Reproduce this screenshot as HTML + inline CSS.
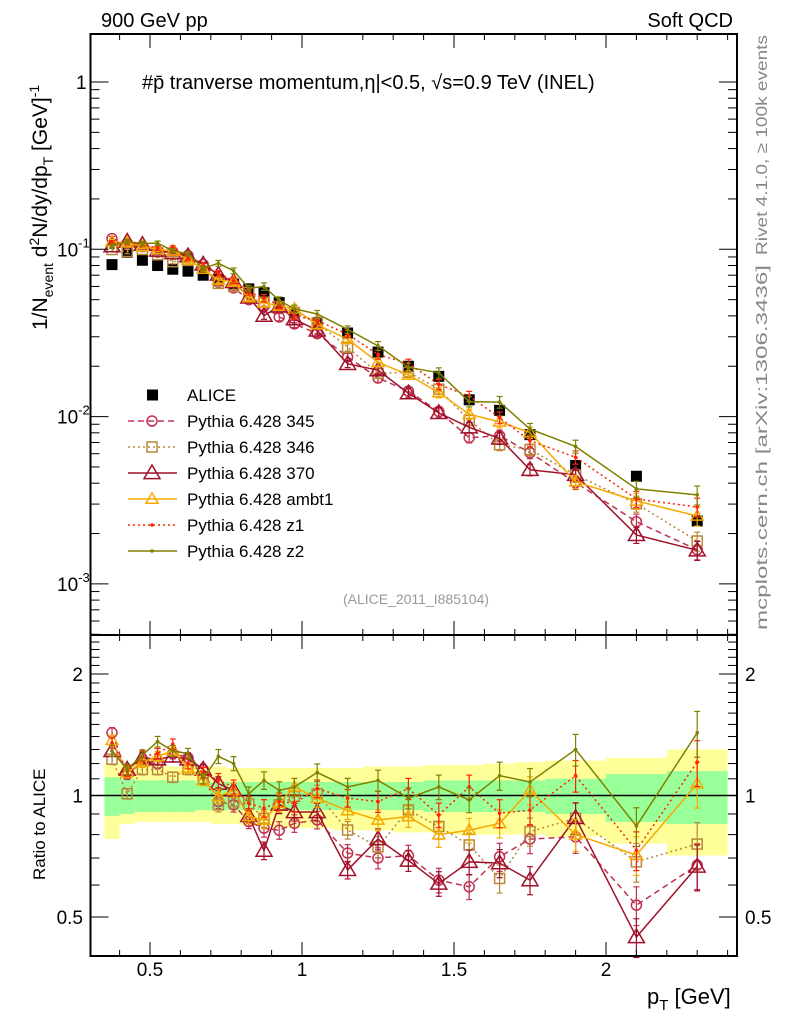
<!DOCTYPE html>
<html><head><meta charset="utf-8">
<style>
html,body{margin:0;padding:0;background:#fff;}
svg{display:block;font-family:"Liberation Sans",sans-serif;}
</style></head>
<body>
<svg id="chart" width="786" height="1024" viewBox="0 0 786 1024" xmlns="http://www.w3.org/2000/svg">
<g id="bands"></g>
<g id="marks"></g>
<g id="axes"></g>
<g id="legend"></g>
<text x="101" y="27" font-size="20">900 GeV pp</text>
<text x="733" y="27" font-size="20" text-anchor="end">Soft QCD</text>
<text x="142" y="89" font-size="20">#p̄ tranverse momentum,η|&lt;0.5, √s=0.9 TeV (INEL)</text>
<text x="416" y="604" font-size="14" fill="#999" text-anchor="middle">(ALICE_2011_I885104)</text>
<text transform="translate(767,255) rotate(-90)" font-size="16" fill="#888" textLength="220" lengthAdjust="spacingAndGlyphs">Rivet 4.1.0, ≥ 100k events</text>
<text transform="translate(767,630) rotate(-90)" font-size="16" fill="#888" textLength="365" lengthAdjust="spacingAndGlyphs">mcplots.cern.ch [arXiv:1306.3436]</text>
<text transform="translate(47,330) rotate(-90)" font-size="21">1/N<tspan font-size="14" dy="6">event</tspan><tspan dy="-6"> d</tspan><tspan font-size="14" dy="-8">2</tspan><tspan dy="8">N/dy/dp</tspan><tspan font-size="14" dy="6">T</tspan><tspan dy="-6"> [GeV]</tspan><tspan font-size="14" dy="-8">-1</tspan></text>
<text transform="translate(45,880) rotate(-90)" font-size="17">Ratio to ALICE</text>
<text x="647" y="1004" font-size="22">p<tspan font-size="15" dy="6">T</tspan><tspan dy="-6"> [GeV]</tspan></text>
</svg>
<script>
const pts = [0.375,0.425,0.475,0.525,0.575,0.625,0.675,0.725,0.775,0.825,0.875,0.925,0.975,1.05,1.15,1.25,1.35,1.45,1.55,1.65,1.75,1.9,2.1,2.3];
const binLo = [0.35,0.4,0.45,0.5,0.55,0.6,0.65,0.7,0.75,0.8,0.85,0.9,0.95,1.0,1.1,1.2,1.3,1.4,1.5,1.6,1.7,1.8,2.0,2.2];
const binHi = [0.4,0.45,0.5,0.55,0.6,0.65,0.7,0.75,0.8,0.85,0.9,0.95,1.0,1.1,1.2,1.3,1.4,1.5,1.6,1.7,1.8,2.0,2.2,2.4];
const alice = [0.081,0.096,0.086,0.080,0.076,0.074,0.070,0.066,0.062,0.058,0.055,0.048,0.042,0.036,0.0316,0.0243,0.020,0.0174,0.0126,0.0109,0.0078,0.0051,0.0044,0.00238];
const yellowUp = [1.2,1.19,1.19,1.19,1.18,1.18,1.18,1.18,1.17,1.17,1.17,1.17,1.17,1.17,1.17,1.18,1.18,1.19,1.19,1.2,1.21,1.22,1.24,1.3];
const yellowDn = [0.78,0.85,0.86,0.86,0.86,0.86,0.86,0.85,0.85,0.84,0.84,0.83,0.83,0.83,0.82,0.82,0.81,0.81,0.8,0.8,0.8,0.79,0.76,0.71];
const greenUp = [1.11,1.1,1.09,1.09,1.09,1.09,1.08,1.08,1.08,1.08,1.08,1.08,1.08,1.08,1.08,1.08,1.08,1.09,1.09,1.09,1.09,1.1,1.13,1.15];
const greenDn = [0.89,0.9,0.91,0.91,0.91,0.91,0.92,0.92,0.92,0.92,0.92,0.92,0.92,0.92,0.92,0.92,0.92,0.91,0.91,0.91,0.91,0.9,0.86,0.85];
const errRel = [0.03,0.03,0.03,0.03,0.03,0.03,0.03,0.04,0.04,0.04,0.05,0.05,0.05,0.05,0.05,0.06,0.06,0.07,0.07,0.08,0.08,0.09,0.11,0.13];
const r345 = [1.43,1.13,1.21,1.20,1.27,1.24,1.16,0.966,0.948,0.862,0.83,0.82,0.853,0.87,0.72,0.70,0.71,0.617,0.594,0.705,0.78,0.79,0.535,0.672];
const r346 = [1.23,1.01,1.16,1.16,1.11,1.16,1.10,0.948,0.966,0.953,0.878,0.948,0.994,1.01,0.821,0.746,0.921,0.838,0.754,0.623,0.814,0.878,0.685,0.758];
const r370 = [1.29,1.16,1.24,1.23,1.25,1.23,1.16,1.07,1.03,0.89,0.73,0.95,0.91,0.91,0.654,0.78,0.69,0.605,0.685,0.68,0.617,0.88,0.446,0.667];
const rAmbt1 = [1.37,1.14,1.21,1.25,1.29,1.17,1.09,0.994,1.03,0.887,0.87,0.957,1.05,0.985,0.918,0.87,0.887,0.80,0.82,0.853,1.03,0.80,0.712,1.07];
const rZ1 = [1.35,1.15,1.25,1.27,1.34,1.20,1.14,1.09,1.05,0.957,0.93,0.966,0.957,1.04,0.985,0.966,1.04,0.895,1.05,0.904,0.92,1.12,0.732,1.21];
const rZ2 = [1.29,1.16,1.26,1.36,1.29,1.27,1.10,1.25,1.20,1.01,1.09,1.03,1.05,1.14,1.05,1.09,0.985,1.05,0.975,1.12,1.08,1.30,0.84,1.43];
const xTicks = [0.5,1,1.5,2];
const xTickLabels = ["0.5","1","1.5","2"];
const ratioTicks = [2,1,0.5];
const ratioTickLabels = ["2","1","0.5"];

const NS="http://www.w3.org/2000/svg";
const L=90.5,R=737,T=34,MB=635,RB=956;
const X0=0.5,XPX=150,XS=304;
function sx(v){return XPX+(v-X0)*XS;}
function sy(v){return 82-Math.log10(v)*167.3;}
function ry(v){return 795.5-Math.log2(v)*121.5;}
function mk(tag,attrs,parent){const e=document.createElementNS(NS,tag);for(const k in attrs)e.setAttribute(k,attrs[k]);parent.appendChild(e);return e;}
const bands=document.getElementById('bands'),marks=document.getElementById('marks'),axes=document.getElementById('axes'),legend=document.getElementById('legend');

for(let i=0;i<pts.length;i++){
  const x1=sx(binLo[i]),x2=sx(binHi[i]);
  const y=mk('rect',{x:x1,y:ry(yellowUp[i]),width:x2-x1,height:ry(yellowDn[i])-ry(yellowUp[i]),fill:'#ffff99'},bands);
  
  
  const g=mk('rect',{x:x1,y:ry(greenUp[i]),width:x2-x1,height:ry(greenDn[i])-ry(greenUp[i]),fill:'#99ff99'},bands);
  
  
}
const one=mk('line',{x1:L,x2:R,y1:ry(1),y2:ry(1),stroke:'#000','stroke-width':1.5},bands);



const series=[
 {name:'345',r:r345,color:'#c03050',dash:'6,4',marker:'circle'},
 {name:'346',r:r346,color:'#b8873a',dash:'2,3',marker:'square'},
 {name:'370',r:r370,color:'#a0102a',dash:'',marker:'triangle',big:true},
 {name:'ambt1',r:rAmbt1,color:'#f5a800',dash:'',marker:'triangle'},
 {name:'z1',r:rZ1,color:'#ff2200',dash:'2,3',marker:'dot'},
 {name:'z2',r:rZ2,color:'#808000',dash:'',marker:'dot'}
];
function drawMarker(m,x,y,c,big,parent){
  let e;
  if(m==='circle')e=mk('circle',{cx:x,cy:y,r:5,fill:'none',stroke:c,'stroke-width':1.5},parent);
  else if(m==='square')e=mk('rect',{x:x-5,y:y-5,width:10,height:10,fill:'none',stroke:c,'stroke-width':1.5},parent);
  else if(m==='triangle'){const s=big?8:6;e=mk('polygon',{points:`${x},${y-s} ${x-s},${y+s*0.7} ${x+s},${y+s*0.7}`,fill:'none',stroke:c,'stroke-width':1.5},parent);}
  else e=mk('circle',{cx:x,cy:y,r:1.8,fill:c},parent);
  return e;
}
function drawSeries(s,yf,vals){
  const g=mk('g',{},marks);
  
  
  let d='';
  vals.forEach((v,i)=>{d+=(i?'L':'M')+sx(pts[i])+','+yf(v);});
  const p=mk('path',{d:d,fill:'none',stroke:s.color,'stroke-width':1.5,'stroke-dasharray':s.dash},g);
  
  
  vals.forEach((v,i)=>{
    const x=sx(pts[i]);
    const eb=mk('line',{x1:x,x2:x,y1:yf(v*(1+errRel[i])),y2:yf(v*(1-errRel[i])),stroke:s.color,'stroke-width':1.2},g);
    
    
    mk('line',{x1:x-3,x2:x+3,y1:yf(v*(1+errRel[i])),y2:yf(v*(1+errRel[i])),stroke:s.color,'stroke-width':1.2},g);
    mk('line',{x1:x-3,x2:x+3,y1:yf(v*(1-errRel[i])),y2:yf(v*(1-errRel[i])),stroke:s.color,'stroke-width':1.2},g);
    const m=drawMarker(s.marker,x,yf(v),s.color,s.big,g);
    
    
  });
}
const ag=mk('g',{},marks);


alice.forEach((v,i)=>{
  const r=mk('rect',{x:sx(pts[i])-5.5,y:sy(v)-5.5,width:11,height:11,fill:'#000'},ag);
  
  
});
series.forEach(s=>{
  drawSeries(s,sy,s.r.map((r,i)=>r*alice[i]));
  drawSeries(s,ry,s.r);
});

[[T,MB],[MB,RB]].forEach(([t,b])=>{
  const f=mk('rect',{x:L,y:t,width:R-L,height:b-t,fill:'none',stroke:'#000','stroke-width':2},axes);
  
  
});
for(let v=0.35;v<=2.4;v+=0.1){
  const x=sx(Math.round(v*10)/10);
  if(x<L||x>R)continue;
  [[T,6],[MB,-6],[MB,6],[RB,-6]].forEach(([y,l])=>mk('line',{x1:x,x2:x,y1:y,y2:y+l,stroke:'#000','stroke-width':1},axes));
}
xTicks.forEach((v,i)=>{
  const x=sx(v);
  [[T,14],[MB,-14],[MB,14],[RB,-14]].forEach(([y,l])=>mk('line',{x1:x,x2:x,y1:y,y2:y+l,stroke:'#000','stroke-width':1},axes));
  const t=mk('text',{x:x,y:976,'font-size':19,'text-anchor':'middle'},axes);
  t.textContent=xTickLabels[i];
  
  
});
for(let e=-4;e<=0;e++){
  for(let k=1;k<=9;k++){
    const v=k*Math.pow(10,e);const y=sy(v);
    if(y<T||y>MB)continue;
    const l=k===1?18:9;
    mk('line',{x1:L,x2:L+l,y1:y,y2:y,stroke:'#000'},axes);
    mk('line',{x1:R,x2:R-l,y1:y,y2:y,stroke:'#000'},axes);
  }
}
const mainLabels=[[1,'1',''],[0.1,'10','-1'],[0.01,'10','-2'],[0.001,'10','-3']];
mainLabels.forEach(([v,b,e])=>{
  const t=mk('text',{x:e?57:76,y:sy(v)+7,'font-size':19},axes);
  
  
  t.textContent=b;
  if(e){const s=mk('tspan',{'font-size':13,dy:-9},t);s.textContent=e;}
});
for(let v=0.4;v<=2.5;v+=0.1){
  const vv=Math.round(v*10)/10;const y=ry(vv);
  if(y<MB||y>RB)continue;
  const major=(vv===0.5||vv===1||vv===2);
  const l=major?18:9;
  mk('line',{x1:L,x2:L+l,y1:y,y2:y,stroke:'#000'},axes);
  mk('line',{x1:R,x2:R-l,y1:y,y2:y,stroke:'#000'},axes);
}
ratioTicks.forEach((v,i)=>{
  const t=mk('text',{x:83,y:ry(v)+7,'font-size':19,'text-anchor':'end'},axes);
  t.textContent=ratioTickLabels[i];
  
  
  const t2=mk('text',{x:745,y:ry(v)+7,'font-size':19},axes);
  t2.textContent=ratioTickLabels[i];
  
  
});
const legY=[395,421,447,473,499,525,551];
const le0=mk('g',{},legend);


mk('rect',{x:147,y:legY[0]-5.5,width:11,height:11,fill:'#000'},le0);
const lt0=mk('text',{x:187,y:legY[0]+6,'font-size':17},le0);lt0.textContent='ALICE';
series.forEach((s,i)=>{
  const g=mk('g',{},legend);
  
  
  const y=legY[i+1];
  mk('line',{x1:128,x2:177,y1:y,y2:y,stroke:s.color,'stroke-width':1.5,'stroke-dasharray':s.dash},g);
  drawMarker(s.marker,152,y,s.color,s.big,g);
  const t=mk('text',{x:187,y:y+6,'font-size':17},g);
  t.textContent='Pythia 6.428 '+s.name;
});
</script>
</body></html>
